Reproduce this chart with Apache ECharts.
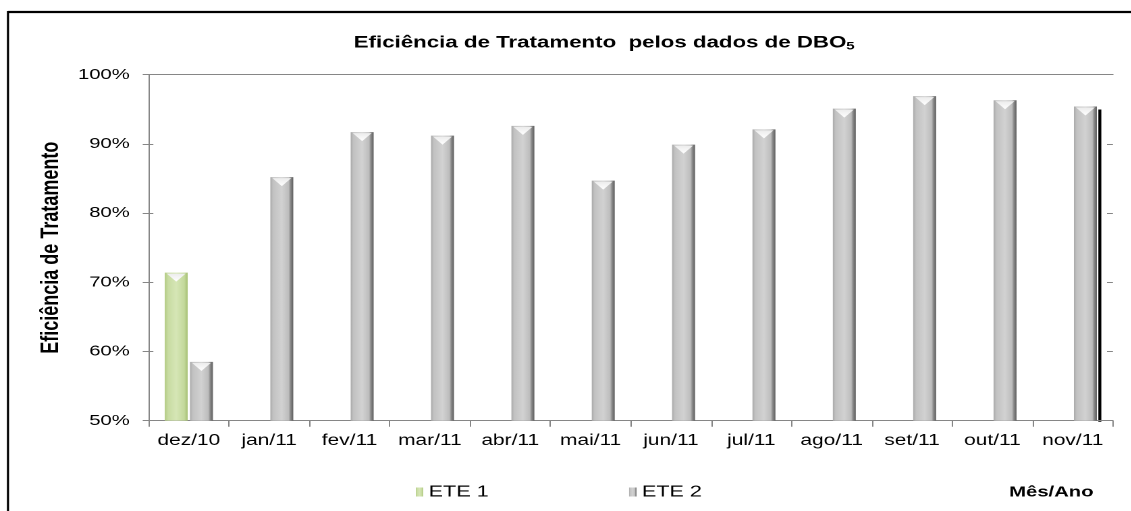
<!DOCTYPE html>
<html><head><meta charset="utf-8">
<script src="https://cdn.jsdelivr.net/npm/echarts@6/dist/echarts.min.js"></script>
<style>
html,body{margin:0;padding:0;background:#fff;overflow:hidden;width:1131px;height:511px}
#c{width:838px;height:511px;transform:scaleX(1.35);transform-origin:0 0}
</style>
</head><body><div id="c"></div>
<script>
var categories = ['dez/10','jan/11','fev/11','mar/11','abr/11','mai/11','jun/11','jul/11','ago/11','set/11','out/11','nov/11'];
var ete1 = [71.4, null, null, null, null, null, null, null, null, null, null, null];
var ete2 = [58.5, 85.2, 91.7, 91.2, 92.6, 84.7, 89.9, 92.1, 95.1, 96.9, 96.3, 95.4];
var yTicks = [50, 60, 70, 80, 90, 100];

var F = 'Liberation Sans, Arial, sans-serif';
function grad(stops){return {type:'linear',x:0,y:0,x2:1,y2:0,colorStops:stops.map(function(s){return {offset:s[0],color:s[1]};})};}
var grayGrad = grad([[0,'#a9a9a9'],[0.12,'#c2c2c2'],[0.5,'#d2d2d2'],[0.8,'#bdbdbd'],[0.88,'#8a8a8a'],[1,'#5e5e5e']]);
var greenGrad = grad([[0,'#b3cb84'],[0.15,'#c8dca2'],[0.5,'#d6e6b6'],[0.85,'#c4d99c'],[1,'#a6c073']]);
var chevron = {type:'linear',x:0,y:0,x2:0,y2:1,colorStops:[{offset:0,color:'#ffffff'},{offset:1,color:'#ececec'}]};

function marks(vals){
  var out=[];
  vals.forEach(function(v,i){ if(v!=null) out.push({coord:[categories[i], v]}); });
  return out;
}

var chart = echarts.init(document.getElementById('c'), null, {renderer:'canvas', devicePixelRatio:2});
var border = [
  {type:'line', silent:true, shape:{x1:5.9,y1:12,x2:900,y2:12}, style:{stroke:'#000',lineWidth:2.2}},
  {type:'line', silent:true, shape:{x1:5.9,y1:11,x2:5.9,y2:600}, style:{stroke:'#000',lineWidth:1.6}}
];
chart.setOption({
  animation:false,
  textStyle:{fontFamily:F},
  title:[
    {text:'Eficiência de Tratamento  pelos dados de DBO{s|5}', left:257, top:29,
     textStyle:{fontFamily:F,fontSize:16.5,fontWeight:'bold',color:'#000',
       rich:{s:{fontSize:11,fontWeight:'bold',fontFamily:F,color:'#000',padding:[7,0,0,0]}}}},
    {text:'Mês/Ano', right:23, top:480, textStyle:{fontFamily:F,fontSize:15,fontWeight:'bold',color:'#000'}}
  ],
  legend:{
    data:['ETE 1','ETE 2'], left:303, top:479, itemWidth:5.5, itemHeight:9, itemGap:104,
    icon:'rect', textStyle:{fontFamily:F,fontSize:16,color:'#000',padding:[0,0,0,-1]}
  },
  grid:{left:110.1, right:13.6, top:74.7, bottom:90.3},
  xAxis:[
    {type:'category', data:categories, boundaryGap:true,
     axisLine:{lineStyle:{color:'#868686',width:1}},
     axisTick:{show:true,interval:0,length:6,lineStyle:{color:'#868686'}},
     axisLabel:{interval:0,fontFamily:F,fontSize:15.5,color:'#000',margin:12}},
    {type:'category', data:categories, position:'top',
     axisLine:{show:true,lineStyle:{color:'#868686'}}, axisTick:{show:false}, axisLabel:{show:false}}
  ],
  yAxis:[
    {type:'value', min:50, max:100, interval:10,
     name:'Eficiência de Tratamento', nameLocation:'middle', nameGap:63, nameRotate:90,
     nameTextStyle:{fontFamily:F,fontSize:18,fontWeight:'bold',color:'#000'},
     axisLine:{show:true,lineStyle:{color:'#868686'}},
     axisTick:{show:true,length:4.4,lineStyle:{color:'#868686'}},
     splitLine:{show:false},
     axisLabel:{fontFamily:F,fontSize:15,color:'#000',margin:14,
       formatter:function(v){return yTicks.indexOf(v)>=0 ? v+'%' : '';}}},
    {type:'value', min:50, max:100, interval:10, position:'right',
     axisLine:{show:false}, axisTick:{show:true,inside:true,length:4.4,lineStyle:{color:'#868686'}},
     axisLabel:{show:false}, splitLine:{show:false}},
    {type:'value', min:50, max:100, interval:10, position:'left',
     axisLine:{show:false}, axisTick:{show:true,inside:true,length:3.5,lineStyle:{color:'#868686'}},
     axisLabel:{show:false}, splitLine:{show:false}}
  ],
  series:[
    {name:'ETE 1', type:'bar', data:ete1, barWidth:17, barGap:'10%',
     itemStyle:{color:greenGrad},
     markPoint:{symbol:'triangle', symbolRotate:180, symbolSize:[14,8], symbolOffset:[0,5],
       itemStyle:{color:chevron}, label:{show:false}, data:marks(ete1)}},
    {name:'ETE 2', type:'bar', data:ete2, barWidth:17,
     itemStyle:{color:grayGrad},
     markPoint:{symbol:'triangle', symbolRotate:180, symbolSize:[14,8], symbolOffset:[0,5],
       itemStyle:{color:chevron}, label:{show:false}, data:marks(ete2)}}
  ],
  graphic:border
});

// dark shadow line along the right edge of the last ETE 2 bar
try{
  var data = chart.getModel().getSeriesByIndex(1).getData();
  var last = data.count()-1;
  var lay = data.getItemLayout(last);
  var yTop = chart.convertToPixel({yAxisIndex:0}, ete2[last]);
  var yBot = chart.convertToPixel({yAxisIndex:0}, 50);
  if(lay && isFinite(yTop) && isFinite(yBot)){
    var x = lay.x + lay.width + 2.2;
    chart.setOption({graphic:border.concat([
      {type:'line', silent:true, shape:{x1:x,y1:yTop+3,x2:x,y2:yBot+1}, style:{stroke:'#000',lineWidth:2.2}}
    ])});
  }
}catch(e){}
</script></body></html>
